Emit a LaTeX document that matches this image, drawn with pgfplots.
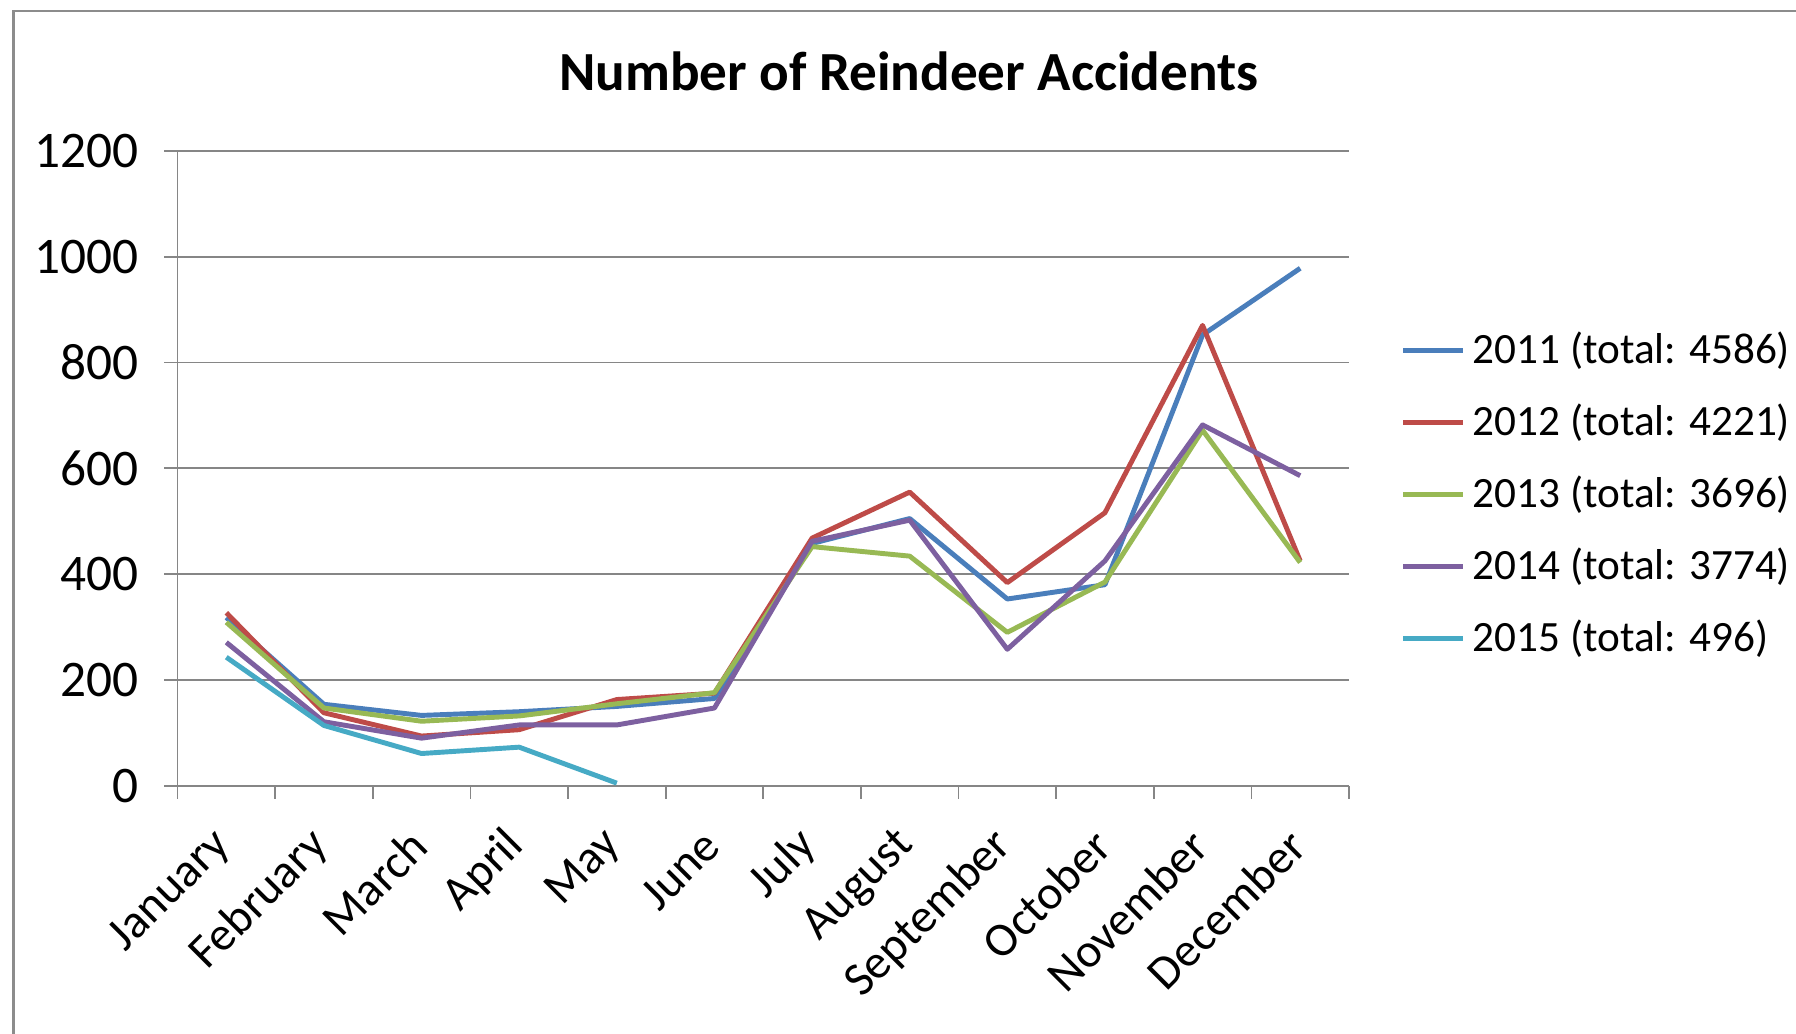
\documentclass[border=0pt]{standalone}
\usepackage{fontspec}
\setmainfont{Carlito}
\usepackage{pgfplots}
\pgfplotsset{compat=1.18}

\definecolor{c2011}{HTML}{4A7EBB}
\definecolor{c2012}{HTML}{BE4B48}
\definecolor{c2013}{HTML}{98B954}
\definecolor{c2014}{HTML}{7D60A0}
\definecolor{c2015}{HTML}{46AAC5}
\definecolor{gridgray}{HTML}{868686}
\definecolor{framegray}{HTML}{8C8C8C}

% Monthly accident counts, months numbered 0 (January) to 11 (December)
\pgfplotstableread{
m y2011 y2012 y2013 y2014
0  318 327 309 271
1  154 138 147 121
2  133  94 122  90
3  140 106 132 115
4  150 163 155 115
5  165 175 176 147
6  458 468 452 462
7  505 555 434 502
8  353 384 290 258
9  380 516 385 425
10 852 870 672 682
11 978 425 422 586
}\accidents
\pgfplotstableread{
m y2015
0 243
1 114
2  61
3  73
4   5
}\accidentsfifteen

\begin{document}
\begin{tikzpicture}
\useasboundingbox (0mm,0mm) rectangle (179.6mm,103.4mm);
\fill[white] (0mm,0mm) rectangle (179.6mm,103.4mm);
\draw[framegray, line width=0.25mm] (1.35mm,-5mm) rectangle (185mm,102.3mm);
\node[font=\fontsize{15.7}{19}\selectfont\bfseries] at (90.9mm,96.3mm) {Number of Reindeer Accidents};

\begin{axis}[
  at={(17.75mm,24.82mm)}, anchor=south west,
  scale only axis, width=117.15mm, height=63.5mm,
  xmin=-0.5, xmax=11.5, ymin=0, ymax=1200,
  ytick={0,200,...,1200},
  xtick={-0.5,0.5,...,11.5}, xticklabels={},
  extra x ticks={0,1,...,11},
  extra x tick labels={January,February,March,April,May,June,July,August,September,October,November,December},
  extra x tick style={major tick length=0pt},
  axis lines=left, axis line style={-, draw=gridgray, line width=0.5pt},
  tick align=outside, major tick length=1.3mm,
  tick style={draw=gridgray, line width=0.5pt},
  ymajorgrids, major grid style={draw=gridgray, line width=0.5pt},
  /pgf/number format/assume math mode=true,
  /pgf/number format/1000 sep={},
  yticklabel style={font=\fontsize{14.6}{17}\selectfont, xshift=-1.4mm},
  xticklabel style={font=\fontsize{13.6}{16}\selectfont, xshift=0.6mm, yshift=-4.4mm, rotate=45, anchor=east},
  legend style={at={(1.0436,0.459)}, anchor=west, draw=none, fill=none,
    font=\fontsize{12.3}{14}\selectfont, inner sep=0pt, row sep=2.1mm},
  legend cell align=left,
  legend image code/.code={\draw[#1] (0mm,0mm) -- (6mm,0mm);},
  every axis plot/.append style={line width=1.4pt, line join=round, mark=none},
  clip=false,
]
\addplot[c2011] table[x=m, y=y2011] {\accidents};
\addlegendentry{2011 (total: 4586)}
\addplot[c2012] table[x=m, y=y2012] {\accidents};
\addlegendentry{2012 (total: 4221)}
\addplot[c2013] table[x=m, y=y2013] {\accidents};
\addlegendentry{2013 (total: 3696)}
\addplot[c2014] table[x=m, y=y2014] {\accidents};
\addlegendentry{2014 (total: 3774)}
\addplot[c2015] table[x=m, y=y2015] {\accidentsfifteen};
\addlegendentry{2015 (total: 496)}
\end{axis}
\end{tikzpicture}
\end{document}
